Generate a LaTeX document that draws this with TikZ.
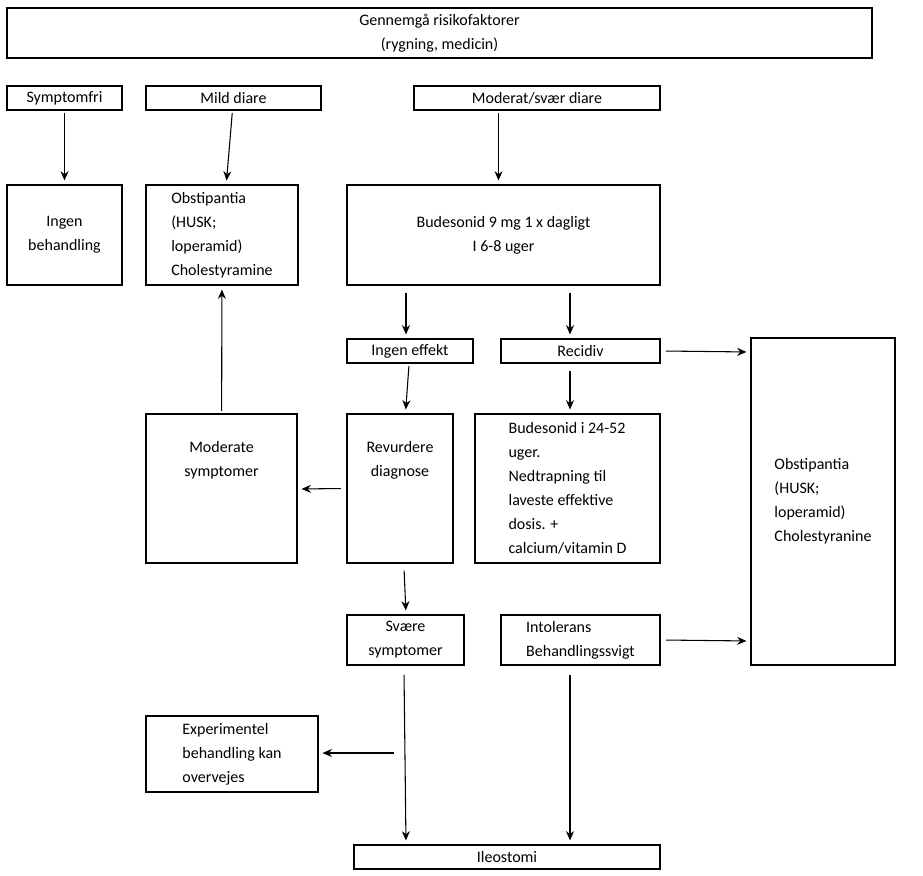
\documentclass[tikz,border=0pt]{standalone}
\usepackage{fontspec}
\setmainfont{Carlito}
\usetikzlibrary{arrows.meta}
\tikzset{
	box/.style={draw,thick,rectangle,inner sep=2pt,font=\fontsize{12}{18}\selectfont},
	arr/.style={-{Stealth[length=7pt,width=6pt]},thick}
}
\newcommand{\bx}[6]{% name, x1, y1, x2, y2, options+text
	\node[box,minimum width={(#4-#2)*0.75pt},minimum height={(#5-#3)*0.75pt},#6}
\begin{document}
\begin{tikzpicture}[x=0.75pt,y=-0.75pt]
		\useasboundingbox (0,0) rectangle (923,875);
		%
		\node[box,minimum width=648.75pt,minimum height=37.5pt,align=center] (risk) at (439.5,33) {Gennemgå risikofaktorer\\(rygning, medicin)};
		\node[box,minimum width=86.25pt,minimum height=18pt] (fri) at (64.5,98) {Symptomfri};
		\node[box,minimum width=131.25pt,minimum height=18pt] (mild) at (233.5,98) {Mild diare};
		\node[box,minimum width=184.5pt,minimum height=18pt] (mod) at (537,98) {Moderat/svær diare};
		%
		\node[box,minimum width=86.25pt,minimum height=75pt,align=center] (ingen) at (64.5,235) {Ingen\\behandling};
		\node[box,minimum width=114pt,minimum height=75pt,align=left] (obst) at (222,235) {Obstipantia\\(HUSK;\\loperamid)\\Cholestyramine};
		\node[box,minimum width=234.75pt,minimum height=75pt,align=center] (bud) at (503.5,235) {Budesonid 9 mg 1 x dagligt\\I 6-8 uger};
		%
		\node[box,minimum width=94.5pt,minimum height=18pt] (effekt) at (410,351) {Ingen effekt};
		\node[box,minimum width=119.25pt,minimum height=18pt] (recidiv) at (580.5,351) {Recidiv};
		\node[box,minimum width=108pt,minimum height=245.25pt,align=left] (obstr) at (823,501.5) {Obstipantia\\(HUSK;\\loperamid)\\Cholestyranine};
		%
		\node[box,minimum width=113.25pt,minimum height=111.75pt,align=center] (moderate) at (221.5,488.5) {Moderate\\symptomer\\[2.2em]};
		\node[box,minimum width=79.5pt,minimum height=111.75pt,align=center] (revurd) at (400,488.5) {Revurdere\\diagnose\\[2.2em]};
		\node[box,minimum width=138.75pt,minimum height=111.75pt,align=left] (bud2) at (567.5,488.5) {Budesonid i 24-52\\uger.\\Nedtrapning til\\laveste effektive\\dosis. +\\calcium/vitamin D};
		%
		\node[box,minimum width=87.75pt,minimum height=37.5pt,align=center] (svaere) at (405.5,640) {Svære\\symptomer};
		\node[box,minimum width=119.25pt,minimum height=37.5pt,align=left] (intol) at (580.5,640) {Intolerans\\Behandlingssvigt};
		\node[box,minimum width=129pt,minimum height=57pt,align=left] (exp) at (232,754) {Experimentel\\behandling kan\\overvejes};
		\node[box,minimum width=229.5pt,minimum height=18pt] (ileo) at (507,857) {Ileostomi};
		%
		\coordinate (side) at (397,753);
		\path[arr,shorten <=2pt,shorten >=3pt]
			(fri) edge (ingen)
			(mild) edge (obst)
			(mod.south -| bud.south) ++(-5,0) coordinate (m1) (m1) edge (m1 |- bud.north)
			(406,290) edge (effekt.north -| 406,0)
			(570,290) edge (recidiv.north -| 570,0)
			(effekt) edge (revurd)
			(570,368) edge (bud2.north -| 570,0)
			(recidiv.east) ++(3,0) edge (obstr.west |- 0,352)
			(moderate) edge (obst)
			(revurd.west) ++(-3,0) edge (moderate.east |- 0,489)
			(404,568) edge (svaere.north -| 406,0)
			(intol.east) ++(3,0) edge (obstr.west |- 0,641)
			(side) edge (exp.east |- side)
			(404,672) edge (ileo.north -| 406,0)
			(570,672) edge (ileo.north -| 570,0);
\end{tikzpicture}
\end{document}
